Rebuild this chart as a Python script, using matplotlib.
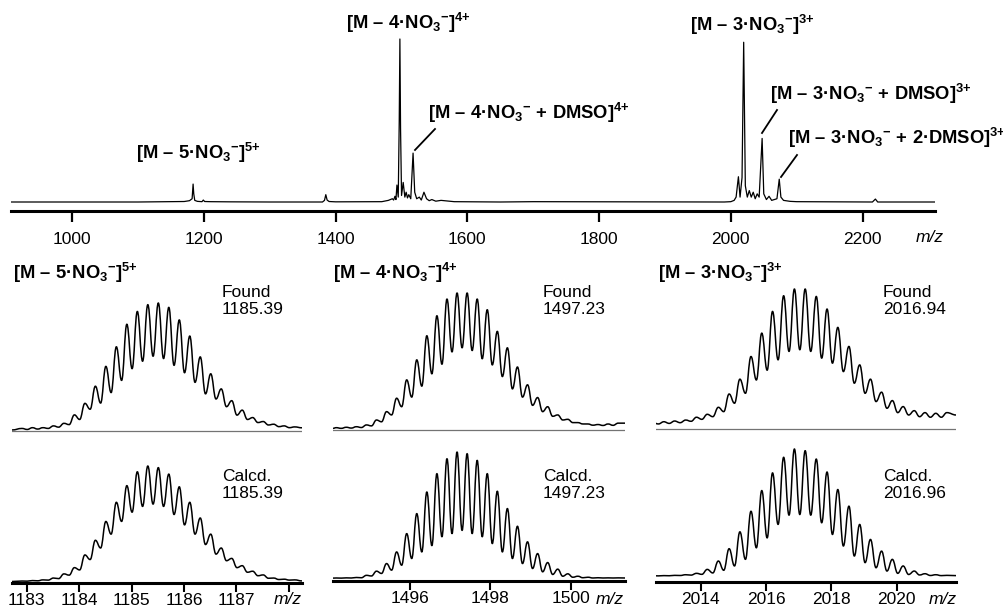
import matplotlib
matplotlib.use("Agg")
import matplotlib.pyplot as plt
from matplotlib.lines import Line2D
from matplotlib.patches import PathPatch
from matplotlib.path import Path

plt.rcParams["font.family"] = ["Liberation Sans", "DejaVu Sans"]
plt.rcParams["mathtext.fontset"] = "custom"
plt.rcParams["mathtext.rm"] = "Liberation Sans:bold"
plt.rcParams["mathtext.bf"] = "Liberation Sans:bold"
plt.rcParams["mathtext.it"] = "Liberation Sans:bold"

W, H = 1004, 614

# ---- full-range spectrum (m/z, relative intensity) ----
top_mz = [907, 1100, 1170, 1178, 1182, 1183.5, 1184.5, 1186, 1190, 1197,
          1199, 1201, 1210, 1240, 1300, 1380, 1383, 1385, 1387, 1390,
          1400, 1470, 1480, 1486, 1488, 1490, 1491.5, 1493, 1495, 1496.5,
          1497.5, 1498.5, 1500, 1502.5, 1505, 1507, 1509, 1511, 1514, 1517.5,
          1520, 1523, 1527, 1530, 1534, 1538, 1542, 1546, 1552, 1560,
          1580, 1650, 1700, 1990, 2000, 2005, 2008, 2011.5, 2014, 2017,
          2019.5, 2022, 2025, 2028, 2031, 2034, 2037, 2040, 2043, 2047.5,
          2050, 2054, 2058, 2062, 2066, 2070, 2073.5, 2076, 2080, 2090,
          2100, 2215, 2219.5, 2223, 2310]
top_int = [0, 0, 0.003, 0.008, 0.02, 0.11, 0.05, 0.01, 0.004, 0.002,
           0.012, 0.003, 0.002, 0.001, 0, 0, 0.01, 0.045, 0.012, 0.003,
           0.001, 0.002, 0.01, 0.02, 0.012, 0.035, 0.015, 0.104, 0.03, 0.5,
           1.0, 0.45, 0.04, 0.12, 0.03, 0.06, 0.025, 0.045, 0.02, 0.30,
           0.06, 0.02, 0.03, 0.012, 0.06, 0.02, 0.008, 0.015, 0.005, 0.01,
           0.002, 0, 0.002, 0, 0.002, 0.01, 0.03, 0.155, 0.03, 0.15,
           0.98, 0.1, 0.03, 0.07, 0.03, 0.06, 0.02, 0.05, 0.03, 0.39,
           0.05, 0.015, 0.035, 0.01, 0.015, 0.02, 0.14, 0.03, 0.01, 0.004,
           0.002, 0, 0.018, 0, 0]
top_ticks = [1000, 1200, 1400, 1600, 1800, 2000, 2200]

# ---- isotope envelopes: peak m/z, peak tops, valleys between peaks ----
mz_5 = [1182.91, 1183.11, 1183.31, 1183.51, 1183.71, 1183.91, 1184.11, 1184.31,
        1184.51, 1184.71, 1184.91, 1185.11, 1185.31, 1185.51, 1185.71, 1185.91,
        1186.11, 1186.31, 1186.51, 1186.71, 1186.91, 1187.11, 1187.31, 1187.51,
        1187.71, 1187.91, 1188.11]
found_5_top = [0.02, 0.026, 0.026, 0.04, 0.06, 0.126, 0.216, 0.35, 0.505, 0.658,
               0.834, 0.934, 0.987, 1.0, 0.966, 0.868, 0.742, 0.579, 0.447, 0.329,
               0.237, 0.163, 0.105, 0.074, 0.053, 0.04, 0.032]
found_5_val = [0.012, 0.015, 0.02, 0.03, 0.05, 0.09, 0.17, 0.218, 0.30, 0.395,
               0.487, 0.545, 0.584, 0.566, 0.513, 0.455, 0.38, 0.29, 0.25, 0.19,
               0.124, 0.09, 0.066, 0.047, 0.034, 0.026]
calcd_5_top = [0.004, 0.008, 0.014, 0.03, 0.066, 0.12, 0.23, 0.357, 0.52, 0.686,
               0.83, 0.95, 1.0, 0.986, 0.93, 0.82, 0.686, 0.55, 0.41, 0.29,
               0.2, 0.137, 0.089, 0.057, 0.03, 0.02, 0.014]
calcd_5_val = [0.003, 0.006, 0.012, 0.025, 0.055, 0.1, 0.19, 0.29, 0.41, 0.52,
               0.6, 0.65, 0.67, 0.65, 0.58, 0.49, 0.41, 0.32, 0.237, 0.18,
               0.12, 0.08, 0.05, 0.028, 0.017, 0.012]

mz_4 = [1494.17, 1494.42, 1494.67, 1494.92, 1495.17, 1495.42, 1495.67, 1495.92,
        1496.17, 1496.42, 1496.67, 1496.92, 1497.17, 1497.42, 1497.67, 1497.92,
        1498.17, 1498.42, 1498.67, 1498.92, 1499.17, 1499.42, 1499.67, 1499.92,
        1500.17, 1500.42, 1500.67, 1500.92, 1501.17]
found_4_top = [0.017, 0.02, 0.024, 0.037, 0.073, 0.134, 0.232, 0.366, 0.512, 0.688,
               0.834, 0.956, 1.0, 1.0, 0.956, 0.878, 0.72, 0.6, 0.46, 0.33,
               0.237, 0.17, 0.11, 0.078, 0.054, 0.044, 0.04, 0.044, 0.05]
found_4_val = [0.012, 0.014, 0.018, 0.03, 0.06, 0.11, 0.17, 0.24, 0.32, 0.41,
               0.48, 0.57, 0.6, 0.58, 0.52, 0.475, 0.39, 0.3, 0.24, 0.18,
               0.134, 0.1, 0.073, 0.054, 0.044, 0.035, 0.033, 0.034]
calcd_4_top = [0.004, 0.005, 0.008, 0.025, 0.058, 0.118, 0.21, 0.355, 0.513, 0.684,
               0.829, 0.947, 1.0, 0.987, 0.934, 0.829, 0.69, 0.553, 0.413, 0.29,
               0.197, 0.126, 0.074, 0.037, 0.018, 0.01, 0.006, 0.005, 0.005]
calcd_4_val = [0.003, 0.004, 0.006, 0.02, 0.04, 0.066, 0.105, 0.158, 0.21, 0.26,
               0.33, 0.355, 0.38, 0.355, 0.33, 0.276, 0.21, 0.158, 0.118, 0.079,
               0.053, 0.032, 0.018, 0.01, 0.006, 0.004, 0.004, 0.004]

mz_3 = [2012.54, 2012.87, 2013.20, 2013.54, 2013.87, 2014.20, 2014.54, 2014.87,
        2015.20, 2015.54, 2015.87, 2016.20, 2016.54, 2016.87, 2017.20, 2017.54,
        2017.87, 2018.20, 2018.54, 2018.87, 2019.20, 2019.54, 2019.87, 2020.20,
        2020.54, 2020.87, 2021.20, 2021.54]
found_3_top = [0.045, 0.052, 0.057, 0.064, 0.084, 0.105, 0.155, 0.25, 0.356, 0.518,
               0.685, 0.84, 0.952, 1.0, 1.0, 0.947, 0.857, 0.726, 0.59, 0.458,
               0.356, 0.263, 0.203, 0.16, 0.131, 0.117, 0.112, 0.117]
found_3_val = [0.036, 0.04, 0.045, 0.055, 0.069, 0.088, 0.124, 0.184, 0.255, 0.35,
               0.42, 0.494, 0.554, 0.566, 0.554, 0.506, 0.47, 0.41, 0.327, 0.255,
               0.196, 0.148, 0.117, 0.1, 0.088, 0.084, 0.084]
calcd_3_top = [0.002, 0.003, 0.005, 0.01, 0.021, 0.052, 0.118, 0.215, 0.348, 0.51,
               0.673, 0.812, 0.935, 1.0, 0.987, 0.921, 0.819, 0.681, 0.55, 0.406,
               0.288, 0.196, 0.131, 0.079, 0.039, 0.018, 0.01, 0.005]
calcd_3_val = [0.001, 0.002, 0.004, 0.007, 0.013, 0.024, 0.045, 0.079, 0.131, 0.222,
               0.3, 0.406, 0.479, 0.484, 0.479, 0.419, 0.327, 0.236, 0.157, 0.105,
               0.065, 0.039, 0.021, 0.012, 0.008, 0.004, 0.003]

LBL5 = r"$\mathrm{[M\ –\ 5·NO_3{}^{-}]^{5{+}}}$"
LBL4 = r"$\mathrm{[M\ –\ 4·NO_3{}^{-}]^{4{+}}}$"
LBL3 = r"$\mathrm{[M\ –\ 3·NO_3{}^{-}]^{3{+}}}$"
LBL4D = r"$\mathrm{[M\ –\ 4·NO_3{}^{-}\ {+}\ DMSO]^{4{+}}}$"
LBL3D = r"$\mathrm{[M\ –\ 3·NO_3{}^{-}\ {+}\ DMSO]^{3{+}}}$"
LBL3DD = r"$\mathrm{[M\ –\ 3·NO_3{}^{-}\ {+}\ 2·DMSO]^{3{+}}}$"


def px_axes(fig, left, top, right, bottom):
    return fig.add_axes([left / W, 1 - bottom / H, (right - left) / W, (bottom - top) / H])


def fit_ylim(ax, top, bottom, y0, y1):
    # y0 = pixel row of value 0, y1 = pixel row of value 1
    scale = y0 - y1
    ax.set_ylim(-(bottom - y0) / scale, (y0 - top) / scale)


def ftext(fig, x, y, s, **kw):
    fig.text(x / W, 1 - y / H, s, **kw)


def fline(fig, x0, y0, x1, y1):
    fig.add_artist(Line2D([x0 / W, x1 / W], [1 - y0 / H, 1 - y1 / H],
                          transform=fig.transFigure, color="black", lw=1.3))


def envelope(ax, mz, tops, valleys, start, end):
    xs, ys = [start[0]], [start[1]]
    for i, (m, t) in enumerate(zip(mz, tops)):
        xs.append(m)
        ys.append(t)
        if i < len(valleys):
            xs.append((m + mz[i + 1]) / 2)
            ys.append(valleys[i])
    xs.append(end[0])
    ys.append(end[1])
    # smooth profile: bezier segments with flat tangents at the read extremes
    verts = [(xs[0], ys[0])]
    codes = [Path.MOVETO]
    for i in range(1, len(xs)):
        d = (xs[i] - xs[i - 1]) * 0.42
        verts += [(xs[i - 1] + d, ys[i - 1]), (xs[i] - d, ys[i]), (xs[i], ys[i])]
        codes += [Path.CURVE4] * 3
    ax.add_patch(PathPatch(Path(verts, codes), fill=False, edgecolor="black",
                           lw=1.1, joinstyle="round"))


fig = plt.figure(figsize=(W / 100, H / 100), dpi=100)

# ---- top overview ----
ax = px_axes(fig, 11, 0, 935, 211)
ax.plot(top_mz, top_int, color="black", lw=0.9)
ax.set_xlim(907, 2310)
fit_ylim(ax, 0, 211, 202, 39)
for s in ["top", "right", "left"]:
    ax.spines[s].set_visible(False)
ax.spines["bottom"].set_linewidth(2.2)
ax.set_yticks([])
ax.set_xticks(top_ticks)
ax.tick_params(axis="x", direction="out", length=8, width=1.6, pad=7, labelsize=12.5)
ftext(fig, 930, 238, "m/z", style="italic", fontsize=12.5, ha="center", va="center")

lbl_kw = dict(fontsize=13.2, va="center")
ftext(fig, 198, 153, LBL5, ha="center", **lbl_kw)
ftext(fig, 408, 23, LBL4, ha="center", **lbl_kw)
ftext(fig, 428, 113, LBL4D, ha="left", **lbl_kw)
ftext(fig, 752, 25, LBL3, ha="center", **lbl_kw)
ftext(fig, 770, 94, LBL3D, ha="left", **lbl_kw)
ftext(fig, 788, 138, LBL3DD, ha="left", **lbl_kw)
fline(fig, 435, 129, 415, 150)
fline(fig, 777, 110, 762, 133)
fline(fig, 797, 155, 781, 177)

# ---- isotope pattern panels ----
panels = [
    dict(x=(12, 302), xlim=(1182.72, 1188.25), mz=mz_5,
         found=(found_5_top, found_5_val), calcd=(calcd_5_top, calcd_5_val),
         f_edges=((1182.72, 0.008), (1188.25, 0.025)),
         c_edges=((1182.72, 0.0), (1188.25, 0.005)),
         f_px=(431, 303), c_px=(583, 581.5, 466),
         ticks=[1183, 1184, 1185, 1186, 1187, 1188],
         ticklabels=["1183", "1184", "1185", "1186", "1187", ""],
         mzx=288, title=LBL5, tx=13, txt_x=222,
         found_val="1185.39", calcd_val="1185.39"),
    dict(x=(333, 625), xlim=(1494.09, 1501.34), mz=mz_4,
         found=(found_4_top, found_4_val), calcd=(calcd_4_top, calcd_4_val),
         f_edges=((1494.09, 0.012), (1501.34, 0.05)),
         c_edges=((1494.09, 0.003), (1501.34, 0.004)),
         f_px=(430, 293), c_px=(581, 578.5, 452),
         ticks=[1496, 1498, 1500], ticklabels=["1496", "1498", "1500"],
         mzx=610, title=LBL4, tx=333, txt_x=543,
         found_val="1497.23", calcd_val="1497.23"),
    dict(x=(656, 956), xlim=(2012.63, 2021.82), mz=mz_3,
         found=(found_3_top, found_3_val), calcd=(calcd_3_top, calcd_3_val),
         f_edges=((2012.45, 0.04), (2021.82, 0.1)),
         c_edges=((2012.45, 0.002), (2021.82, 0.003)),
         f_px=(429, 289), c_px=(582, 576, 449),
         ticks=[2014, 2016, 2018, 2020], ticklabels=["2014", "2016", "2018", "2020"],
         mzx=943, title=LBL3, tx=658, txt_x=883,
         found_val="2016.94", calcd_val="2016.96"),
]

for p in panels:
    x0, x1 = p["x"]
    c_bottom, c_y0, c_y1 = p["c_px"]

    af = px_axes(fig, x0, 262, x1, 445)
    af.set_xlim(*p["xlim"])
    fit_ylim(af, 262, 445, *p["f_px"])
    af.axhline(0, color="0.45", lw=0.9)
    envelope(af, p["mz"], *p["found"], *p["f_edges"])
    af.axis("off")

    ac = px_axes(fig, x0, 445, x1, c_bottom)
    ac.set_xlim(*p["xlim"])
    fit_ylim(ac, 445, c_bottom, c_y0, c_y1)
    envelope(ac, p["mz"], *p["calcd"], *p["c_edges"])
    for s in ["top", "right", "left"]:
        ac.spines[s].set_visible(False)
    ac.spines["bottom"].set_linewidth(2.2)
    ac.set_yticks([])
    ac.set_xticks(p["ticks"])
    ac.set_xticklabels(p["ticklabels"])
    ac.tick_params(axis="x", direction="out", length=6.5, width=1.5, pad=1,
                   labelsize=12.5)
    ftext(fig, p["mzx"], 600, "m/z", style="italic", fontsize=12.5, ha="center", va="center")

    ftext(fig, p["tx"], 273, p["title"], ha="left", **lbl_kw)
    ftext(fig, p["txt_x"], 285, "Found\n" + p["found_val"], fontsize=12.5,
          ha="left", va="top", linespacing=1.2)
    ftext(fig, p["txt_x"], 469, "Calcd.\n" + p["calcd_val"], fontsize=12.5,
          ha="left", va="top", linespacing=1.2)

fig.savefig("out.png", dpi=100)
